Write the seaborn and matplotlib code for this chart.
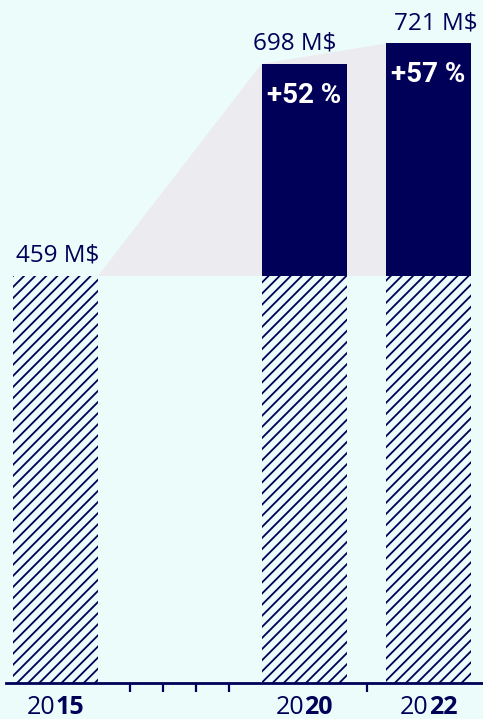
import matplotlib
matplotlib.use('Agg')
import numpy as np
import pandas as pd
import matplotlib.pyplot as plt
import seaborn as sns
from matplotlib import transforms

# Data
years = [2015, 2020, 2022]
values = [459, 698, 721]
base_value = 459
value_labels = ['459 M$', '698 M$', '721 M$']
growth_labels = ['+52 %', '+57 %']
tick_years = [2016, 2017, 2018, 2019, 2021]

# Layout of the year slots along the axis (original spacing is not even)
slot_pos = {2015: 55.5, 2016: 130, 2017: 163, 2018: 196, 2019: 229,
            2020: 304, 2021: 367, 2022: 428.5}
label_dx = [2.5, -9, 7]   # small horizontal nudges of the value labels, px

navy = '#000058'
bg = '#ebfcfb'
wedge = '#ebebf0'

sns.set_theme(style='white')
plt.rcParams['font.family'] = ['Open Sans', 'DejaVu Sans']
plt.rcParams['hatch.linewidth'] = 1.3

fig = plt.figure(figsize=(4.83, 7.19), dpi=100, facecolor=bg)
ax = fig.add_axes([6 / 483, 36 / 719, 477 / 483, 683 / 719])
ax.set_facecolor(bg)

df = pd.DataFrame({'year': years, 'value': values})
df['pos'] = df['year'].map(slot_pos)
df['base'] = base_value
df['growth'] = df['value'] - base_value

bar_w = 85 / np.min(np.diff(df['pos']))

# Hatched base part
sns.barplot(data=df, x='pos', y='base', native_scale=True, width=bar_w,
            color=bg, edgecolor=navy, hatch='///', linewidth=0,
            saturation=1, errorbar=None, ax=ax)
# Solid growth part
top = df[df['growth'] > 0]
sns.barplot(data=top, x='pos', y='growth', native_scale=True, width=bar_w,
            color=navy, linewidth=0, bottom=base_value, saturation=1,
            errorbar=None, ax=ax)

p = ax.patches
# grey wedge joining the 2015 bar top to the later bar tops
wx = [p[0].get_x() + p[0].get_width(), p[3].get_x(), p[4].get_x(), p[4].get_x()]
wy = [base_value, values[1], values[2], base_value]
ax.fill(wx, wy, color=wedge, zorder=0.5, linewidth=0)

ax.set_xlim(6, 483)
ax.set_ylim(0, 770)

# value labels above bars
for (x, v), lab, dx in zip(zip(df['pos'], df['value']), value_labels, label_dx):
    ax.annotate(lab, (x, v), xytext=(dx, 14), textcoords='offset pixels',
                ha='center', va='baseline', fontsize=17.5, color=navy)

# growth labels inside solid bars
for (x, v), lab in zip(zip(top['pos'], top['value']), growth_labels):
    ax.annotate(lab, (x, v), xytext=(0, -39), textcoords='offset pixels',
                ha='center', va='baseline', fontsize=20, fontweight='bold',
                color='white', family=['Roboto', 'DejaVu Sans'])

# axis
for s in ['left', 'top', 'right']:
    ax.spines[s].set_visible(False)
ax.spines['bottom'].set_color(navy)
ax.spines['bottom'].set_linewidth(2)
ax.set_yticks([])
ax.set_xticks([slot_pos[y] for y in tick_years])
ax.set_xticklabels([])
ax.tick_params(axis='x', direction='out', length=6.5, width=1.6,
               color=navy, bottom=True)
ax.set_xlabel('')
ax.set_ylabel('')

# year labels: first two digits regular, last two bold
fig.canvas.draw()
r = fig.canvas.get_renderer()
trans = transforms.blended_transform_factory(ax.transData, ax.transAxes)
for yr in years:
    s = str(yr)
    x = slot_pos[yr]
    t1 = ax.text(x, 0, s[:2], transform=trans, fontsize=18, color=navy,
                 ha='left', va='baseline')
    t2 = ax.text(x, 0, s[2:], transform=trans, fontsize=18, color=navy,
                 fontweight='bold', ha='left', va='baseline')
    w1 = t1.get_window_extent(r).width
    w2 = t2.get_window_extent(r).width
    start = -(w1 + w2) / 2
    t1.set_transform(transforms.offset_copy(trans, fig, x=start, y=-31, units='dots'))
    t2.set_transform(transforms.offset_copy(trans, fig, x=start + w1, y=-31, units='dots'))
    t1.set_clip_on(False)
    t2.set_clip_on(False)

plt.savefig('out.png', dpi=100, facecolor=bg)
